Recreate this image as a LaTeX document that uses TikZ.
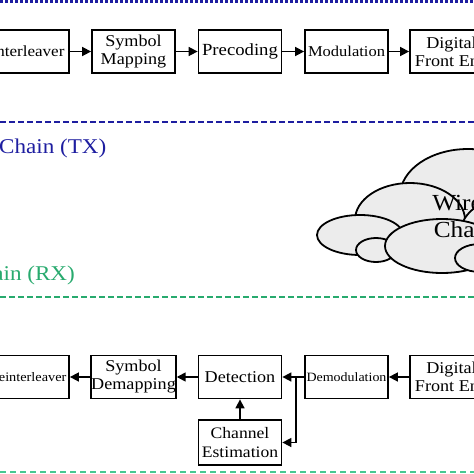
\documentclass[tikz,border=0pt]{standalone}
\usepackage{fontspec}
\setmainfont{Liberation Serif}[FakeStretch=1.1]
\usetikzlibrary{arrows.meta}
\definecolor{txblue}{RGB}{30,30,160}
\definecolor{rxgreen}{RGB}{40,170,110}
\definecolor{rxgreenlt}{RGB}{70,200,145}
\definecolor{cloudgray}{RGB}{236,236,236}
\tikzset{
  blk/.style={draw=black, line width=1.8pt, minimum width=83pt, minimum height=43pt,
    inner sep=0pt, align=center, font=\fontsize{16.5}{18}\selectfont},
  arr/.style={line width=1.6pt, -{Triangle[length=9pt,width=9pt]}},
  ln/.style={line width=1.6pt},
  puff/.style={fill=cloudgray, draw=black, line width=1.8pt},
}
\begin{document}
\begin{tikzpicture}[x=1pt,y=-1pt]
\useasboundingbox (0,0) rectangle (474,474);
\clip (0,0) rectangle (474,474);
% separator lines
\draw[txblue, line width=2.4pt, dash pattern=on 3pt off 2pt] (0,1.5) -- (474,1.5);
\draw[txblue, line width=1.6pt, dash pattern=on 6pt off 3pt] (0,122) -- (474,122);
\draw[rxgreen, line width=1.6pt, dash pattern=on 6pt off 3pt] (0,297) -- (474,297);
\draw[rxgreenlt, line width=2.4pt, dash pattern=on 6pt off 4pt] (0,472) -- (474,472);
% labels
\node[anchor=base west, text=txblue, font=\fontsize{21}{22}\selectfont, inner sep=0pt] (txlab) at (-1,153) {Chain (TX)};
\node[anchor=base east, text=rxgreen, font=\fontsize{21}{22}\selectfont, inner sep=0pt] (rxlab) at (75,280) {Chain (RX)};
% cloud
\fill[puff] (468,196) ellipse [x radius=68, y radius=47];
\fill[puff] (410,220) ellipse [x radius=55, y radius=37];
\fill[puff] (360,235) ellipse [x radius=43, y radius=20];
\fill[puff] (376,250) ellipse [x radius=20, y radius=12];
\fill[puff] (500,235) ellipse [x radius=40, y radius=35];
\fill[puff] (442,246) ellipse [x radius=57, y radius=27];
\fill[puff] (480,258) ellipse [x radius=25, y radius=14];
\node[align=center, font=\fontsize{23}{27}\selectfont, inner sep=0pt] (chan) at (476,216) {Wireless\\Channel};
% TX chain
\node[blk, font=\fontsize{15.5}{18}\selectfont] (intl) at (27.5,51.5) {Interleaver};
\node[blk] (smap) at (133.5,51.5) {Symbol\\Mapping};
\node[blk, font=\fontsize{17}{18}\selectfont] (prec) at (240,51.5) {Precoding};
\node[blk, font=\fontsize{15}{18}\selectfont] (mod) at (346.5,51.5) {Modulation};
\node[blk] (dfetx) at (451.5,51.5) {Digital\\Front End};
\draw[arr] (intl) -- (smap);
\draw[arr] (smap) -- (prec);
\draw[arr] (prec) -- (mod);
\draw[arr] (mod) -- (dfetx);
% RX chain
\node[blk, font=\fontsize{13}{18}\selectfont] (dint) at (27.5,377) {Deinterleaver};
\node[blk] (sdem) at (133.5,377) {Symbol\\Demapping};
\node[blk] (det) at (240,377) {Detection};
\node[blk, font=\fontsize{12.7}{18}\selectfont] (demod) at (346.5,377) {Demodulation};
\node[blk] (dferx) at (451.5,377) {Digital\\Front End};
\node[blk, minimum height=45pt, font=\fontsize{16}{19}\selectfont] (cest) at (240,442.5) {Channel\\Estimation};
\coordinate (jn) at (296,377);
\draw[arr] (dferx) -- (demod);
\draw[ln] (demod.west) -- (jn);
\draw[arr] (jn) -- (det.east);
\draw[arr] (jn) |- (cest.east);
\draw[arr] (cest) -- (det);
\draw[arr] (det) -- (sdem);
\draw[arr] (sdem) -- (dint);
\end{tikzpicture}
\end{document}
